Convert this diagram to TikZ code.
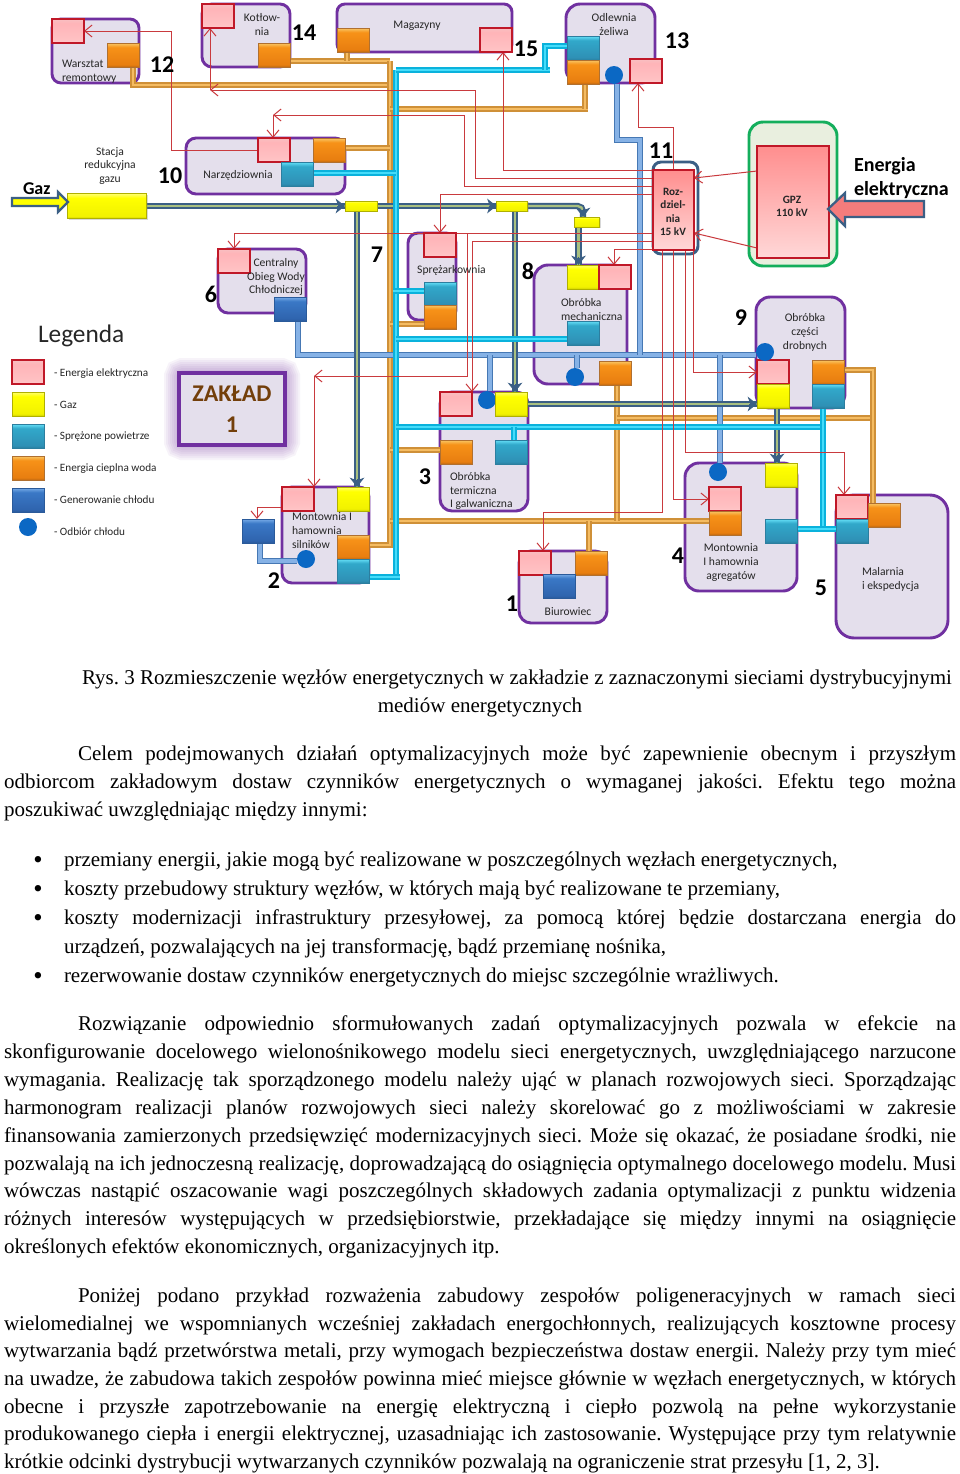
\documentclass[tikz,border=0pt]{standalone}
\usepackage{fontspec}
\setmainfont{Liberation Serif}
\newfontfamily\calf{Carlito}
\frenchspacing
\usetikzlibrary{arrows.meta,shadows,calc}
\definecolor{deptfill}{HTML}{E4DFEC}
\definecolor{deptline}{HTML}{7030A0}
\definecolor{greenfill}{HTML}{E9EFDF}
\definecolor{greenline}{HTML}{14AE5C}
\definecolor{navy}{HTML}{3B5F85}
\definecolor{redl}{HTML}{C93A3E}
\definecolor{txtc}{HTML}{262626}
\definecolor{eA}{HTML}{FFD2D4}\definecolor{eB}{HTML}{FFC2C4}\definecolor{eC}{HTML}{FFB4B8}\definecolor{eD}{HTML}{F8C0C2}\definecolor{eL}{HTML}{C01828}
\definecolor{gA}{HTML}{D2D200}\definecolor{gB}{HTML}{F2F200}\definecolor{gC}{HTML}{FFFF00}\definecolor{gD}{HTML}{FFFF70}\definecolor{gL}{HTML}{B0B000}
\definecolor{aA}{HTML}{2A7F9F}\definecolor{aB}{HTML}{2F90B5}\definecolor{aC}{HTML}{31A8CA}\definecolor{aD}{HTML}{66E0F8}\definecolor{aL}{HTML}{2C7E9F}
\definecolor{hA}{HTML}{C06A12}\definecolor{hB}{HTML}{E87E10}\definecolor{hC}{HTML}{F79218}\definecolor{hD}{HTML}{F8C868}\definecolor{hL}{HTML}{B07030}
\definecolor{cA}{HTML}{2A5A9A}\definecolor{cB}{HTML}{2F64AE}\definecolor{cC}{HTML}{3A78C6}\definecolor{cD}{HTML}{78ACE8}\definecolor{cL}{HTML}{2A5A9A}
\pgfdeclareverticalshading{elecS}{100bp}{color(0bp)=(eA);color(25bp)=(eA);color(30bp)=(eB);color(66bp)=(eC);color(75bp)=(eD);color(100bp)=(eD)}
\pgfdeclareverticalshading{gasS}{100bp}{color(0bp)=(gA);color(25bp)=(gA);color(30bp)=(gB);color(66bp)=(gC);color(75bp)=(gD);color(100bp)=(gD)}
\pgfdeclareverticalshading{airS}{100bp}{color(0bp)=(aA);color(25bp)=(aA);color(30bp)=(aB);color(66bp)=(aC);color(75bp)=(aD);color(100bp)=(aD)}
\pgfdeclareverticalshading{heatS}{100bp}{color(0bp)=(hA);color(25bp)=(hA);color(30bp)=(hB);color(66bp)=(hC);color(75bp)=(hD);color(100bp)=(hD)}
\pgfdeclareverticalshading{coolS}{100bp}{color(0bp)=(cA);color(25bp)=(cA);color(30bp)=(cB);color(66bp)=(cC);color(75bp)=(cD);color(100bp)=(cD)}
\pgfdeclarelayer{deptlayer}
\pgfdeclarelayer{pipelayer}
\pgfsetlayers{deptlayer,pipelayer,main}
\definecolor{recvc}{HTML}{0B68C4}
\definecolor{heatedge}{HTML}{CF9038}\definecolor{heatin}{HTML}{F5BC62}
\definecolor{airedge}{HTML}{0AB2DC}\definecolor{airin}{HTML}{45DCFA}
\definecolor{cooledge}{HTML}{4678B4}\definecolor{coolin}{HTML}{86B2E6}
\definecolor{gasin}{HTML}{A8C080}
\definecolor{fatr}{HTML}{F47C7C}
\definecolor{bigT}{HTML}{FF8E8E}\definecolor{bigB}{HTML}{FFD8D8}
\tikzset{
  sz/.style 2 args={minimum width=#1*0.75pt,minimum height=#2*0.75pt},
  blk/.style={rectangle,inner sep=0pt,outer sep=0pt,sz={32}{24},line width=.7pt,
    drop shadow={shadow xshift=.8pt,shadow yshift=-.8pt,opacity=.3}},
  elecb/.style={blk,shade,shading=elecS,draw=eL,line width=1.1pt},
  gasb/.style={blk,shade,shading=gasS,draw=gL},
  airb/.style={blk,shade,shading=airS,draw=aL},
  heatb/.style={blk,shade,shading=heatS,draw=hL},
  coolb/.style={blk,shade,shading=coolS,draw=cL},
  recv/.style={circle,inner sep=0pt,outer sep=0pt,minimum size=13.5pt,fill=recvc},
  deptb/.style={rectangle,draw=deptline,fill=deptfill,line width=2.2pt,inner sep=0pt,outer sep=0pt},
  heatp/.style={draw=heatedge,double=heatin,line width=1.05pt,double distance=2pt},
  airp/.style={draw=airedge,double=airin,line width=1.05pt,double distance=2pt},
  coolp/.style={draw=cooledge,double=coolin,line width=1.1pt,double distance=2.3pt},
  gasp/.style={draw=navy,double=gasin,line width=1.45pt,double distance=1.8pt},
  gashead/.style={draw=navy,fill=navy,line width=.6pt,-{Stealth[length=7pt,width=11pt,inset=2pt]}},
  redp/.style={draw=redl,line width=.75pt},
  redar/.style={redp,-{Straight Barb[length=5.5pt,width=9pt]}},
  lab/.style={inner sep=0pt,outer sep=0pt,text=txtc,yshift=-1.1pt,font=\fontsize{8.7}{10.2}\selectfont\calf,align=center},
  labl/.style={lab,align=left,anchor=west},
  labb/.style={lab,font=\fontsize{8.4}{10.2}\selectfont\calf\bfseries},
  num/.style={inner sep=0pt,outer sep=0pt,text=black,font=\fontsize{18}{20}\selectfont\calf\bfseries},
  leg/.style={inner sep=0pt,outer sep=0pt,text=txtc,anchor=west,yshift=-.7pt,font=\fontsize{8.4}{10}\selectfont\calf},
  body/.style={inner sep=0pt,outer sep=0pt,text=black,anchor=base west,yshift=-.75pt,font=\fontsize{15.76}{18}\selectfont},
  bulletn/.style={inner sep=0pt,outer sep=0pt,text=black,anchor=base,font=\fontsize{20}{20}\selectfont},
}
\newcommand\dept[6]{\node[deptb,rounded corners=#6*0.75pt,minimum width={(#4-#2)*0.75pt},minimum height={(#5-#3)*0.75pt}] (#1) at ({(#2+#4)/2},{(#3+#5)/2}) {};}
\newcommand\gashd[2]{\draw[gashead] ($(#2)!6pt!(#1)$) -- (#2);}
\newcommand\justline[5]{\node[body] (#1) at (#2,#3) {\makebox[\dimexpr#4pt*3/4\relax][s]{#5}};}
\newcommand\plainline[4]{\node[body] (#1) at (#2,#3) {#4};}
\begin{document}
\begin{tikzpicture}[x=0.75pt,y=-0.75pt]
\path[use as bounding box] (0,0) rectangle (960,1474);
% ---- departments
\begin{pgfonlayer}{deptlayer}
\fill[white] (0,0) rectangle (960,1474);
\dept{dW}{52}{19}{139}{83}{9}
\dept{dK}{202}{4}{290}{67}{10}
\dept{dM}{337}{4}{512}{52}{8}
\dept{dO}{566}{4}{655}{83}{14}
\dept{dN}{186}{138}{345}{194}{10}
\dept{dC}{218}{249}{306}{313}{10}
\dept{dP}{408}{233}{456}{320}{10}
\dept{dMe}{534}{265}{627}{384}{14}
\dept{dCd}{756}{297}{845}{408}{14}
\dept{dT}{440}{392}{528}{511}{12}
\dept{dMs}{282}{487}{369}{583}{10}
\dept{dB}{519}{551}{607}{623}{12}
\dept{dAg}{685}{463}{797}{591}{14}
\dept{dMa}{836}{495}{948}{638}{18}
\node[rectangle,draw=greenline,fill=greenfill,line width=2.2pt,rounded corners=10.5pt,inner sep=0pt,outer sep=0pt,sz={88}{144}] (gpzo) at (793,194) {};
\node[rectangle,draw=navy,line width=2.2pt,rounded corners=6pt,inner sep=0pt,outer sep=0pt,sz={45}{92}] (rzo) at (675.5,208) {};
\foreach \w in {30,26,22,18,14,10,6}{
  \draw[deptline,opacity=.055,line width=\w*0.75pt,rounded corners=3pt] (179,373) rectangle (285,445);
}
\node[rectangle,draw=deptline,fill=deptfill,line width=2.7pt,inner sep=0pt,outer sep=0pt,sz={106}{72}] (zak) at (232,409) {};
\end{pgfonlayer}
% ---- blocks
\node[elecb] (wE) at (68,31) {};
\node[heatb] (wH) at (123,55) {};
\node[elecb] (kE) at (218,16) {};
\node[heatb] (kH) at (274,55) {};
\node[heatb] (mH) at (353,40) {};
\node[elecb] (mE) at (496,40) {};
\node[airb] (oA) at (583,48) {};
\node[heatb] (oH) at (583,72) {};
\node[recv] (oC) at (614,75) {};
\node[elecb] (oE) at (646,71) {};
\node[elecb] (nE) at (274,150) {};
\node[heatb] (nH) at (329,150) {};
\node[airb] (nA) at (297,174) {};
\node[gasb,sz={79}{25}] (sG) at (107,206) {};
\node[gasb,sz={32}{10}] (t1) at (361,206) {};
\node[gasb,sz={31}{10}] (t2) at (512,206) {};
\node[gasb,sz={25}{10}] (t3) at (587,222) {};
\node[elecb] (cE) at (234,261) {};
\node[coolb] (cC) at (290,309) {};
\node[elecb] (pE) at (440,245) {};
\node[airb] (pA) at (440,294) {};
\node[heatb] (pH) at (440,317) {};
\node[gasb] (meG) at (583,277) {};
\node[elecb] (meE) at (615,277) {};
\node[airb] (meA) at (583,333) {};
\node[heatb] (meH) at (615,373) {};
\node[recv] (meC) at (575,377) {};
\node[elecb] (cdE) at (773,372) {};
\node[gasb] (cdG) at (773,396) {};
\node[heatb] (cdH) at (828,372) {};
\node[airb] (cdA) at (828,396) {};
\node[recv] (cdC) at (765,352) {};
\node[elecb] (teE) at (456,404) {};
\node[recv] (teC) at (487,400) {};
\node[gasb] (teG) at (511,404) {};
\node[heatb] (teH) at (456,452) {};
\node[airb] (teA) at (511,452) {};
\node[elecb] (msE) at (298,499) {};
\node[gasb] (msG) at (353,499) {};
\node[heatb] (msH) at (353,547) {};
\node[airb] (msA) at (353,571) {};
\node[coolb] (msK) at (258,531) {};
\node[recv] (msC) at (306,559) {};
\node[elecb] (bE) at (535,563) {};
\node[heatb] (bH) at (591,563) {};
\node[coolb] (bK) at (559,586) {};
\node[gasb] (agG) at (781,475) {};
\node[elecb] (agE) at (725,499) {};
\node[heatb] (agH) at (725,523) {};
\node[recv] (agC) at (718,472) {};
\node[airb] (agA) at (781,531) {};
\node[elecb] (maE) at (852,507) {};
\node[airb] (maA) at (852,531) {};
\node[heatb] (maH) at (884,515) {};
\node[rectangle,inner sep=0pt,outer sep=0pt,draw=eL,line width=1.1pt,top color=bigT,bottom color=bigB,sz={41}{80}] (rz) at (673.5,210) {};
\node[rectangle,inner sep=0pt,outer sep=0pt,draw=eL,line width=1.1pt,top color=bigT,bottom color=bigB,sz={72}{112}] (gpz) at (793,202) {};
% ---- coordinates
\coordinate (hpA) at (133,85);\coordinate (hpB) at (390,85);\coordinate (hpC) at (390,61);
\coordinate (hpM) at (347,61);\coordinate (hpD) at (390,545);\coordinate (hpE) at (390,109);
\coordinate (hpF) at (588,109);\coordinate (hpG) at (585,109);\coordinate (hpN) at (390,148);
\coordinate (hpP) at (390,324);\coordinate (hpT) at (390,450);\coordinate (hpU) at (390,521);
\coordinate (hpB1) at (589,521);\coordinate (hpV) at (617,521);\coordinate (hpW) at (617,418);
\coordinate (hpX) at (873,418);\coordinate (hpY) at (873,370);
\coordinate (apA) at (396,70);\coordinate (apB) at (396,577);\coordinate (apC) at (400,577);
\coordinate (apD) at (550,70);\coordinate (apE) at (545,70);\coordinate (apF) at (545,46);
\coordinate (apG) at (396,173);\coordinate (apH) at (393,291);\coordinate (apI) at (396,339);
\coordinate (apJ) at (396,427);\coordinate (apK) at (823,427);\coordinate (apL) at (514,427);
\coordinate (apM) at (823,529);
\coordinate (cpA) at (298,355);\coordinate (cpB) at (756,355);\coordinate (cpC) at (617,140);
\coordinate (cpD) at (640,140);\coordinate (cpE) at (640,355);\coordinate (cpF) at (577,355);
\coordinate (cpG) at (490,355);\coordinate (cpH) at (720,355);\coordinate (cpI) at (260,561);
\coordinate (gpB) at (583,206);\coordinate (gpC) at (357,300);\coordinate (gpD) at (515,300);
\coordinate (gpE) at (578.5,240);\coordinate (gpG) at (777,430);
\coordinate (rA) at (673,127);\coordinate (rB) at (638,127);\coordinate (rC) at (503,170);
\coordinate (rD) at (475,178);\coordinate (rE) at (475,90);\coordinate (rF) at (210,90);
\coordinate (rG) at (464,186);\coordinate (rH) at (464,115);\coordinate (rI) at (273,115);
\coordinate (rJ) at (440,194);\coordinate (rK) at (171,150);\coordinate (rL) at (171,31);
\coordinate (rM) at (234,233);\coordinate (rN) at (467,233);\coordinate (rO) at (467,376);
\coordinate (rP) at (314,376);\coordinate (rQ) at (472,241);\coordinate (rR) at (614,249);
\coordinate (rS) at (693,372);\coordinate (rT) at (685.5,452);\coordinate (rU) at (844,452);
\coordinate (rV) at (673.5,499);\coordinate (rW) at (662,512);\coordinate (rX) at (543,512);
\coordinate (rY) at (257,507);\coordinate (rZa) at (757,171);\coordinate (rZb) at (694,178);
\coordinate (rZc) at (757,248);\coordinate (rZd) at (694,233);
\coordinate (eInA) at (12,198);\coordinate (eInB) at (924,209);
% ---- pipes
\begin{pgfonlayer}{pipelayer}
\draw[heatp] (wH.south -| hpA) -- (hpA) -- (hpB);
\draw[heatp] (kH.east |- hpC) -- (hpC);
\draw[heatp] (mH.south -| hpM) -- (hpM);
\draw[heatp] (hpC) -- (hpD) -- (msH.east |- hpD);
\draw[heatp] (hpE) -- (hpF);
\draw[heatp] (oH.south -| hpG) -- (hpG);
\draw[heatp] (nH.east |- hpN) -- (hpN);
\draw[heatp] (hpP) -- (pH.west |- hpP);
\draw[heatp] (hpT) -- (teH.west |- hpT);
\draw[heatp] (hpU) -- (agH.west |- hpU);
\draw[heatp] (hpB1) -- (bH.north -| hpB1);
\draw[heatp] (meH.south -| hpV) -- (hpV);
\draw[heatp] (hpW) -- (hpX);
\draw[heatp] (cdH.east |- hpY) -- (hpY) -- (maH.north -| hpY);
\draw[coolp] (cC.south -| cpA) -- (cpA) -- (cpB);
\draw[coolp] (oC.south -| cpC) -- (cpC) -- (cpD) -- (cpE);
\draw[coolp] (cpF) -- (meC.north -| cpF);
\draw[coolp] (cpG) -- (teC.north -| cpG);
\draw[coolp] (cpH) -- (agC.north -| cpH);
\draw[coolp] (msK.south -| cpI) -- (cpI) -- (msC.west |- cpI);
\draw[gasp] (sG.east) -- (t1.west);
\draw[gasp] (t1.east) -- (t2.west);
\draw[gasp,rounded corners=4pt] (t2.east) -- (gpB) -- (gpB |- t3.north);
\draw[gasp] (t1.south -| gpC) -- (msG.north -| gpC);
\draw[gasp] (t2.south -| gpD) -- (teG.north -| gpD);
\draw[gasp] (t3.south -| gpE) -- (meG.north -| gpE);
\draw[gasp] (teG.east) -- (cdG.west |- teG.east);
\draw[gasp] (cdG.south -| gpG) -- (agG.north -| gpG);
\draw[airp] (apA) -- (apB);
\draw[airp] (msA.east |- apB) -- (apC);
\draw[airp] (apA) -- (apD);
\draw[airp] (apE) -- (apF) -- (oA.west |- apF);
\draw[airp] (nA.east |- apG) -- (apG);
\draw[airp] (apH) -- (pA.west |- apH);
\draw[airp] (apI) -- (meA.west |- apI);
\draw[airp] (apJ) -- (apK);
\draw[airp] (apL) -- (teA.north -| apL);
\draw[airp] (cdA.south -| apM) -- (apM);
\draw[airp] (agA.east |- apM) -- (maA.west |- apM);
% electric
\draw[redar] (rz.north -| rA) -- (rA) -- (rB) -- (oE.south -| rB);
\draw[redar] (rz.north west) -- (rC) -- (mE.south -| rC);
\draw[redar] (rz.west |- rD) -- (rD) -- (rE) -- (rF);
\draw[redar] (rF) -- (kE.south -| rF);
\draw[redar] (rz.west |- rG) -- (rG) -- (rH) -- (rI);
\draw[redar] (rI) -- (nE.north -| rI);
\draw[redar] (rz.west |- rJ) -- (rJ) -- (pE.north -| rJ);
\draw[redar] (nE.west) -- (rK) -- (rL) -- (wE.east);
\draw[redar] (rz.west |- rM) -- (rM) -- (cE.north);
\draw[redar] (rN) -- (rO) -- (rP);
\draw[redar] (rP) -- (msE.north -| rP);
\draw[redar] (rz.west |- rQ) -- (rQ) -- (teE.north -| rQ);
\draw[redar] (rz.west |- rR) -- (rR) -- (meE.north -| rR);
\draw[redar] (rz.south -| rS) -- (rS) -- (cdE.west |- rS);
\draw[redar] (rz.south -| rT) -- (rT) -- (rU) -- (maE.north -| rU);
\draw[redar] (rz.south -| rV) -- (rV) -- (agE.west);
\draw[redar] (rz.south -| rW) -- (rW) -- (rX) -- (bE.north -| rX);
\draw[redar] (msE.west |- rY) -- (rY) -- (msK.north -| rY);
\draw[redar] (rZa) -- (rZb);
\draw[redar] (rZc) -- (rZd);
\end{pgfonlayer}
% gas arrowheads
\gashd{sG.east}{t1.west}
\gashd{t1.east}{t2.west}
\gashd{gpB}{gpB |- t3.north}
\gashd{t1.south -| gpC}{msG.north -| gpC}
\gashd{t2.south -| gpD}{teG.north -| gpD}
\gashd{t3.south -| gpE}{meG.north -| gpE}
\gashd{teG.east}{cdG.west |- teG.east}
\gashd{cdG.south -| gpG}{agG.north -| gpG}
% fat arrows
\draw[navy,fill=gC,line width=1.7pt,line join=miter] (eInA) -- ++(46,0) -- ++(0,-6) -- ++(10,10) -- ++(-10,10) -- ++(0,-6) -- ++(-46,0) -- cycle;
\draw[navy,fill=fatr,line width=1.7pt] (eInB) -- ++(0,-8) -- ++(-79,0) -- ++(0,-8) -- ++(-17,16) -- ++(17,17) -- ++(0,-9) -- ++(79,0) -- cycle;
% ---- labels
\node[labl] (lW) at (62,70) {Warsztat\\remontowy};
\node[lab] (lK) at (262,23) {Kotłow-\\nia};
\node[lab] (lM) at (417,24) {Magazyny};
\node[lab] (lO) at (614,23) {Odlewnia\\żeliwa};
\node[lab] (lS) at (110,164.5) {Stacja\\redukcyjna\\gazu};
\node[lab] (lN) at (238,174) {Narzędziownia};
\node[lab] (lC) at (276,275.5) {Centralny\\Obieg Wody\\Chłodniczej};
\node[lab] (lP) at (451.5,269) {Sprężarkownia};
\node[labl] (lMe) at (561,308) {Obróbka\\mechaniczna};
\node[lab] (lCd) at (805,331) {Obróbka\\części\\drobnych};
\node[labl] (lT) at (450,489.5) {Obróbka\\termiczna\\I galwaniczna};
\node[labl] (lMs) at (292,529) {Montownia I\\hamownia\\silników};
\node[lab] (lB) at (568,610) {Biurowiec};
\node[lab] (lAg) at (731,561) {Montownia\\I hamownia\\agregatów};
\node[labl] (lMa) at (862,578) {Malarnia\\i ekspedycja};
\node[labb] (lRz) at (673,210.5) {Roz-\\dziel-\\nia\\15 kV};
\node[labb] (lG) at (792,205) {GPZ\\110 kV};
\node[num] (n12) at (162,65) {12};
\node[num] (n14) at (304,33) {14};
\node[num] (n15) at (526,49) {15};
\node[num] (n13) at (677,41) {13};
\node[num] (n10) at (170,176) {10};
\node[num] (n11) at (661,151) {11};
\node[num] (n6) at (211,294) {6};
\node[num] (n7) at (377,255) {7};
\node[num] (n8) at (528,271) {8};
\node[num] (n9) at (741,318) {9};
\node[num] (n3) at (425,477) {3};
\node[num] (n2) at (274,581) {2};
\node[num] (n1) at (512,604) {1};
\node[num] (n4) at (678,556) {4};
\node[num] (n5) at (821,588) {5};
\node[inner sep=0pt,outer sep=0pt,anchor=west,text=black,font=\fontsize{13.5}{15}\selectfont\calf\bfseries] (lGaz) at (23,189) {Gaz};
\node[inner sep=0pt,outer sep=0pt,anchor=west,align=left,text=black,font=\fontsize{15}{18}\selectfont\calf\bfseries] (lEn) at (854,178) {Energia\\elektryczna};
\node[inner sep=0pt,outer sep=0pt,align=center,text=hA!60!black,font=\fontsize{18}{23}\selectfont\calf\bfseries] (lZak) at (232,409) {ZAKŁAD\\1};
% legend
\node[inner sep=0pt,outer sep=0pt,anchor=west,text=txtc,font=\fontsize{19}{21}\selectfont\calf] (lLeg) at (38,336) {Legenda};
\node[elecb] (leE) at (28,372) {};
\node[gasb] (leG) at (28,404) {};
\node[airb] (leA) at (28,436) {};
\node[heatb] (leH) at (28,468) {};
\node[coolb] (leK) at (28,500) {};
\node[recv] (leC) at (28,527) {};
\node[leg] (t1a) at (54,373) {- Energia elektryczna};
\node[leg] (t2a) at (54,404) {- Gaz};
\node[leg] (t3a) at (54,436) {- Sprężone powietrze};
\node[leg] (t4a) at (54,468) {- Energia cieplna woda};
\node[leg] (t5a) at (54,499) {- Generowanie chłodu};
\node[leg] (t6a) at (54,531) {- Odbiór chłodu};
% ---- body text
\plainline{c1}{82}{683}{Rys. 3 Rozmieszczenie węzłów energetycznych w zakładzie z zaznaczonymi sieciami dystrybucyjnymi}
\node[body,anchor=base] (c2) at (480,711) {mediów energetycznych};
\justline{p1}{78}{759}{878}{Celem podejmowanych działań optymalizacyjnych może być zapewnienie obecnym i przyszłym}
\justline{p2}{4}{787}{952}{odbiorcom zakładowym dostaw czynników energetycznych o wymaganej jakości. Efektu tego można}
\plainline{p3}{4}{815}{poszukiwać uwzględniając między innymi:}
\node[bulletn] (bu1) at (38,868) {•};
\node[bulletn] (bu2) at (38,897) {•};
\node[bulletn] (bu3) at (38,926) {•};
\node[bulletn] (bu4) at (38,984) {•};
\plainline{b1}{64}{865}{przemiany energii, jakie mogą być realizowane w poszczególnych węzłach energetycznych,}
\plainline{b2}{64}{894}{koszty przebudowy struktury węzłów, w których mają być realizowane te przemiany,}
\justline{b3}{64}{923}{892}{koszty modernizacji infrastruktury przesyłowej, za pomocą której będzie dostarczana energia do}
\plainline{b4}{64}{952}{urządzeń, pozwalających na jej transformację, bądź przemianę nośnika,}
\plainline{b5}{64}{981}{rezerwowanie dostaw czynników energetycznych do miejsc szczególnie wrażliwych.}
\justline{q1}{78}{1029}{878}{Rozwiązanie odpowiednio sformułowanych zadań optymalizacyjnych pozwala w efekcie na}
\justline{q2}{4}{1057}{952}{skonfigurowanie docelowego wielonośnikowego modelu sieci energetycznych, uwzględniającego narzucone}
\justline{q3}{4}{1085}{952}{wymagania. Realizację tak sporządzonego modelu należy ująć w planach rozwojowych sieci. Sporządzając}
\justline{q4}{4}{1113}{952}{harmonogram realizacji planów rozwojowych sieci należy skorelować go z możliwościami w zakresie}
\justline{q5}{4}{1141}{952}{finansowania zamierzonych przedsięwzięć modernizacyjnych sieci. Może się okazać, że posiadane środki, nie}
\justline{q6}{4}{1169}{952}{pozwalają na ich jednoczesną realizację, doprowadzającą do osiągnięcia optymalnego docelowego modelu. Musi}
\justline{q7}{4}{1196}{952}{wówczas nastąpić oszacowanie wagi poszczególnych składowych zadania optymalizacji z punktu widzenia}
\justline{q8}{4}{1224}{952}{różnych interesów występujących w przedsiębiorstwie, przekładające się między innymi na osiągnięcie}
\plainline{q9}{4}{1252}{określonych efektów ekonomicznych, organizacyjnych itp.}
\justline{s1}{78}{1301}{878}{Poniżej podano przykład rozważenia zabudowy zespołów poligeneracyjnych w ramach sieci}
\justline{s2}{4}{1329}{952}{wielomedialnej we wspomnianych wcześniej zakładach energochłonnych, realizujących kosztowne procesy}
\justline{s3}{4}{1356}{952}{wytwarzania bądź przetwórstwa metali, przy wymogach bezpieczeństwa dostaw energii. Należy przy tym mieć}
\justline{s4}{4}{1384}{952}{na uwadze, że zabudowa takich zespołów powinna mieć miejsce głównie w węzłach energetycznych, w których}
\justline{s5}{4}{1412}{952}{obecne i przyszłe zapotrzebowanie na energię elektryczną i ciepło pozwolą na pełne wykorzystanie}
\justline{s6}{4}{1439}{952}{produkowanego ciepła i energii elektrycznej, uzasadniając ich zastosowanie. Występujące przy tym relatywnie}
\plainline{s7}{4}{1467}{krótkie odcinki dystrybucji wytwarzanych czynników pozwalają na ograniczenie strat przesyłu [1, 2, 3].}
\end{tikzpicture}
\end{document}
